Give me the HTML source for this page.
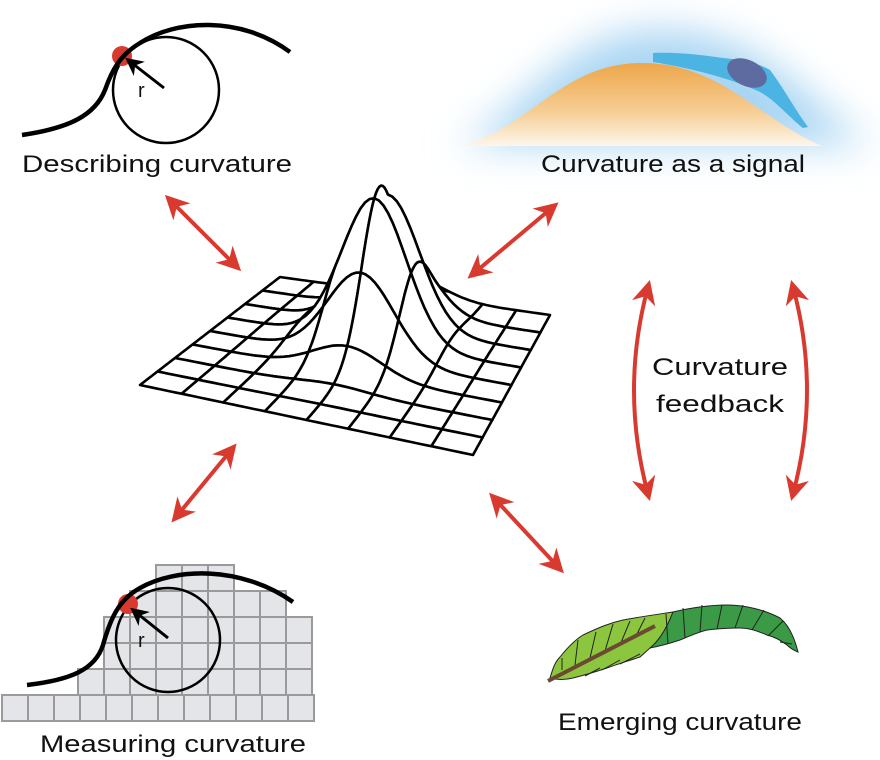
<!DOCTYPE html>
<html><head><meta charset="utf-8"><style>
html,body{margin:0;padding:0;background:#fff;width:880px;height:760px;overflow:hidden}
text{font-family:"Liberation Sans",sans-serif;fill:#111}
</style></head><body>
<svg id="s" width="880" height="760" viewBox="0 0 880 760" xmlns="http://www.w3.org/2000/svg">
<defs>
<filter id="blur" x="-30%" y="-80%" width="160%" height="260%"><feGaussianBlur stdDeviation="20"/></filter>
<linearGradient id="hill" x1="0" y1="0" x2="0" y2="1">
<stop offset="0" stop-color="#eda64a"/>
<stop offset="0.6" stop-color="#f6cf96"/>
<stop offset="1" stop-color="#fdf6ec"/>
</linearGradient>
<marker id="ah" viewBox="0 0 10 10" refX="7" refY="5" markerWidth="6" markerHeight="6" orient="auto-start-reverse">
<path d="M0,0 L10,5 L0,10 L3,5 z" fill="#d93a30"/>
</marker>
<marker id="bk" viewBox="0 0 10 10" refX="8" refY="5" markerWidth="6" markerHeight="6" orient="auto">
<path d="M0,0 L10,5 L0,10 L3,5 z" fill="#000"/>
</marker>
</defs>

<circle cx="166" cy="90" r="53" fill="none" stroke="#000" stroke-width="2.5"/>
<circle cx="122" cy="56" r="10" fill="#d93a30"/>
<path d="M22,135 C70,128 95,115 105,90 C112,70 120,55 140,43 C175,20 240,15 290,52" fill="none" stroke="#000" stroke-width="4.5"/>
<line x1="164" y1="88" x2="128" y2="60" stroke="#000" stroke-width="3" marker-end="url(#bk)"/>
<text x="138" y="97" font-size="20">r</text>
<text x="22" y="172" font-size="24" textLength="270" lengthAdjust="spacingAndGlyphs">Describing curvature</text>

<path d="M455,145 C530,115 560,30 660,30 C775,30 810,115 875,145 Z" fill="#a9d5f3" filter="url(#blur)"/>
<path d="M458,146 C530,130 560,64 640,63 C720,62 760,120 822,146 Z" fill="url(#hill)"/>
<path d="M653,53 C680,52 700,55 723,58 C745,60 760,64 770,70 C785,90 795,110 808,127 L803,128 C790,118 775,100 760,92 C730,78 690,68 653,62 Z" fill="#4bb4e2"/>
<ellipse cx="747" cy="73" rx="21" ry="13" transform="rotate(25 747 73)" fill="#5e6ba0"/>
<text x="541" y="172" font-size="24" textLength="264" lengthAdjust="spacingAndGlyphs">Curvature as a signal</text>

<g stroke="#d93a30" stroke-width="4" fill="none" marker-start="url(#ah)" marker-end="url(#ah)">
<line x1="170" y1="200" x2="236" y2="266"/>
<line x1="553" y1="207" x2="473" y2="274"/>
<line x1="232" y1="449" x2="176" y2="517"/>
<line x1="494" y1="498" x2="559" y2="568"/>
<path d="M648,287 Q620,390 648,494"/>
<path d="M793,287 Q821,390 793,494"/>
</g>
<text x="720" y="375" font-size="24" text-anchor="middle" textLength="136" lengthAdjust="spacingAndGlyphs">Curvature</text>
<text x="720" y="412" font-size="24" text-anchor="middle" textLength="128" lengthAdjust="spacingAndGlyphs">feedback</text>

<g id="mesh"></g>

<g id="grid" fill="#e4e5e8" stroke="#9a9a9a" stroke-width="2"></g>
<circle cx="168" cy="640" r="52" fill="none" stroke="#000" stroke-width="2.5"/>
<circle cx="128" cy="604" r="10" fill="#d93a30"/>
<path d="M27,685 C70,680 95,670 103,645 C110,620 118,600 140,588 C175,568 240,565 293,602" fill="none" stroke="#000" stroke-width="4.5"/>
<line x1="168" y1="638" x2="133" y2="610" stroke="#000" stroke-width="3" marker-end="url(#bk)"/>
<text x="138" y="647" font-size="20">r</text>
<text x="40" y="752" font-size="24" textLength="266" lengthAdjust="spacingAndGlyphs">Measuring curvature</text>

<path d="M550,678 C553,668 555,662 560,657 C568,647 575,640 583,635 C600,627 610,623 623,620 C645,616 660,614 673,612 C668,625 660,640 650,648 L640,657 C625,662 615,665 607,668 C595,672 585,675 573,678 C565,680 557,680 550,678 Z" fill="#8cc63f" stroke="#222" stroke-width="1"/>
<path d="M673,612 C690,608 710,605 727,605 C745,605 765,610 780,618 C790,626 795,640 798,652 C793,650 790,648 787,645 C780,640 775,637 767,635 C755,630 748,628 740,628 C725,628 715,629 707,630 C695,633 688,637 680,640 C668,644 660,646 650,648 C660,640 668,625 673,612 Z" fill="#3a9a45" stroke="#222" stroke-width="1"/>
<g stroke="#222" stroke-width="1" fill="none">
<path d="M562,670 l0,-12 M575,665 l3,-25 M590,658 l6,-26 M605,651 l8,-27 M620,645 l10,-24 M635,638 l10,-20 M585,676 l15,-8 M602,670 l18,-10 M620,664 l20,-10"/>
<path d="M668,644 l-2,-30 M685,638 l-2,-30 M700,632 l2,-27 M717,629 l5,-24 M735,628 l8,-23 M752,630 l12,-20 M768,636 l15,-15 M780,642 l12,2"/>
</g>
<line x1="548" y1="681" x2="655" y2="626" stroke="#6b4a32" stroke-width="4"/>
<text x="558" y="730" font-size="24" textLength="244" lengthAdjust="spacingAndGlyphs">Emerging curvature</text>
</svg>
<script>
(function(){
var NS="http://www.w3.org/2000/svg";
var g=document.getElementById('grid');
var rows=[[565,156,234],[591,130,286],[617,104,312],[643,104,312],[669,78,312],[695,2,312]];
rows.forEach(function(r){for(var x=r[1];x<r[2]-1;x+=26){var e=document.createElementNS(NS,'rect');e.setAttribute('x',x);e.setAttribute('y',r[0]);e.setAttribute('width',26);e.setAttribute('height',26);g.appendChild(e);}});
var BL=[280,277],BR=[550,315],FL=[140,385],FR=[473,455];
function P(u,v){
 var x=(1-u)*(1-v)*BL[0]+u*(1-v)*BR[0]+(1-u)*v*FL[0]+u*v*FR[0];
 var y=(1-u)*(1-v)*BL[1]+u*(1-v)*BR[1]+(1-u)*v*FL[1]+u*v*FR[1];
 var du=u-0.5,dv=v-0.33;
 var h=150*Math.exp(-(du*du)/(2*0.11*0.11)-(dv*dv)/(2*0.16*0.16));
 return [x,y-h];
}
var m=document.getElementById('mesh');var N=8,S=8;
for(var j=0;j<N;j++){for(var i=0;i<N;i++){
 var pts=[];
 for(var k=0;k<=S;k++)pts.push(P((i+k/S)/N,j/N));
 for(var k=1;k<=S;k++)pts.push(P((i+1)/N,(j+k/S)/N));
 for(var k=1;k<=S;k++)pts.push(P((i+1-k/S)/N,(j+1)/N));
 for(var k=1;k<S;k++)pts.push(P(i/N,(j+1-k/S)/N));
 var e=document.createElementNS(NS,'polygon');
 e.setAttribute('points',pts.map(function(p){return p[0].toFixed(1)+','+p[1].toFixed(1)}).join(' '));
 e.setAttribute('fill','#fff');e.setAttribute('stroke','#000');e.setAttribute('stroke-width','2.6');e.setAttribute('stroke-linejoin','round');
 m.appendChild(e);
}}
})();
</script>
</body></html>
